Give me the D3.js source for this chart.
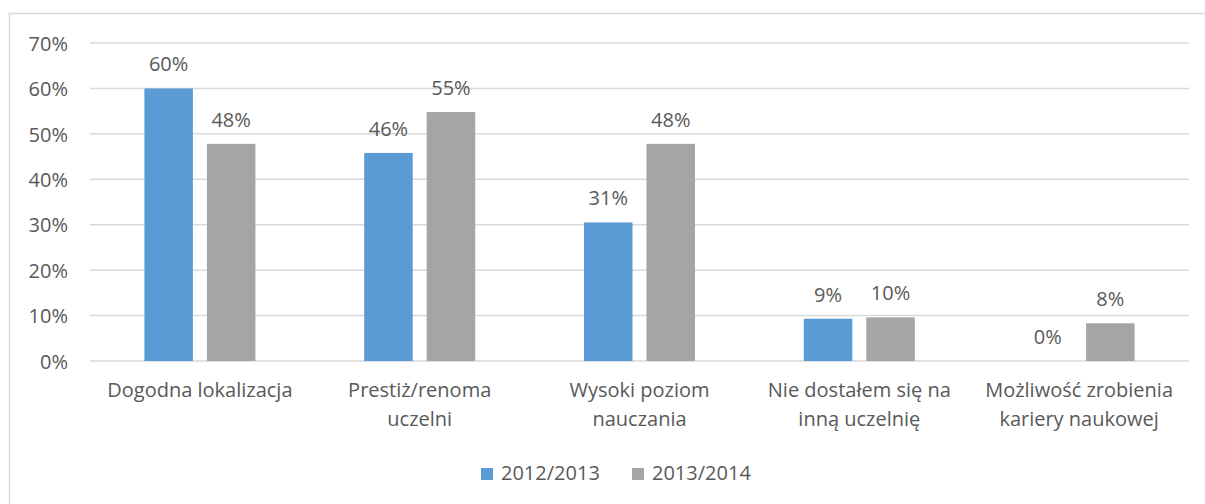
<!DOCTYPE html>
<html><head><meta charset="utf-8">
<script src="https://cdn.jsdelivr.net/npm/d3@7"></script>
<style>
html,body{margin:0;padding:0;background:#fff;}
svg text{font-family:"Open Sans","Liberation Sans",sans-serif;fill:#595959;}
</style></head>
<body><svg id="c" width="1205" height="504"></svg>
<script>
(function(){
const categories = [["Dogodna lokalizacja"],["Prestiż/renoma","uczelni"],["Wysoki poziom","nauczania"],["Nie dostałem się na","inną uczelnię"],["Możliwość zrobienia","kariery naukowej"]];
const seriesNames = ["2012/2013","2013/2014"];
const values2012 = [0.60,0.458,0.305,0.093,0];
const values2013 = [0.478,0.548,0.478,0.096,0.083];
const yTicks = [0,0.1,0.2,0.3,0.4,0.5,0.6,0.7];
const colors = ["#5b9bd5","#a5a5a5"];
const FS = "20px";

const svg = d3.select("#c");
svg.append("rect").attr("x",9.5).attr("y",13.5).attr("width",1200).attr("height",500)
  .attr("fill","none").attr("stroke","#d9d9d9").attr("stroke-width",1.5);

const pL=90,pR=1189,pT=43,pB=361;
const x = d3.scaleBand().domain(d3.range(categories.length)).range([pL,pR]);
const y = d3.scaleLinear().domain([0,0.7]).range([pB,pT]);
const fmt = d3.format(".0%");

svg.append("g").selectAll("line").data(yTicks).join("line")
  .attr("x1",pL).attr("x2",pR).attr("y1",d=>y(d)).attr("y2",d=>y(d))
  .attr("stroke","#d9d9d9").attr("stroke-width",1.5);
const ya = svg.append("g").attr("transform",`translate(${pL-22},0)`)
  .call(d3.axisLeft(y).tickValues(yTicks).tickFormat(fmt).tickSize(0).tickPadding(0));
ya.select(".domain").remove();
ya.selectAll("text").style("font-size",FS).attr("fill","#595959").attr("text-anchor","end").attr("dy","0.36em");

const bw=48.5, gap=14;
const series=[values2012,values2013];
series.forEach((vals,si)=>{
  const g=svg.append("g");
  const bx = i => x(i)+x.bandwidth()/2 + (si===0 ? -gap/2-bw : gap/2);
  g.selectAll("rect").data(vals).join("rect")
    .attr("x",(d,i)=>bx(i)).attr("width",bw)
    .attr("y",d=>y(d)).attr("height",d=>pB-y(d)).attr("fill",colors[si]);
  g.selectAll("text").data(vals).join("text")
    .attr("x",(d,i)=>bx(i)+bw/2).attr("y",d=>y(d)-17)
    .attr("text-anchor","middle").style("font-size",FS).text(d=>fmt(d));
});

const cg = svg.append("g");
categories.forEach((lines,i)=>{
  const cx=x(i)+x.bandwidth()/2;
  const t=cg.append("text").attr("x",cx).attr("y",397)
    .attr("text-anchor","middle").style("font-size",FS);
  lines.forEach((l,k)=>t.append("tspan").attr("x",cx).attr("dy",k===0?0:29).text(l));
});

const leg = svg.append("g");
const lx=[481,632];
seriesNames.forEach((n,i)=>{
  leg.append("rect").attr("x",lx[i]).attr("y",468).attr("width",12).attr("height",12).attr("fill",colors[i]);
  leg.append("text").attr("x",lx[i]+20).attr("y",480).style("font-size",FS).text(n);
});
})();
</script></body></html>
